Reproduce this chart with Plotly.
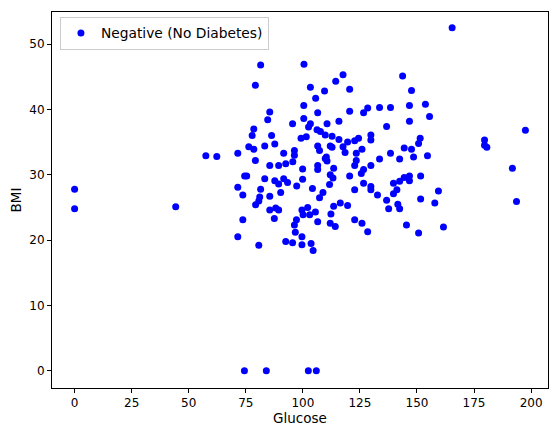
import plotly.graph_objects as go

glucose = [
    0, 0, 44.3, 57.5, 62.3, 74.4, 84, 102.4, 105.9, 165.4, 179.6, 179.6, 180.6, 191.8, 193.6, 197.5,
    143.7, 147.6, 133.6, 138.4, 146.7, 153.7, 155.5, 146.7, 136.7, 128.4, 126.6, 129.8, 129.8, 124.4,
    122.7, 125.9, 123.4, 123.4, 122.7, 129.8, 126.6, 125.6, 133.6, 138.4, 142.4, 144.4, 147.6, 148.5,
    150.7, 151.4, 154.6, 126.6, 122.7, 129.8, 129.8, 132.7, 139.7, 142.4, 144.4, 146.7, 146.7, 151.6,
    141.2, 139.7, 136.7, 137.6, 141.6, 142.4, 151.6, 159.4, 157.8, 122.7, 125.9, 128.4, 145.4, 150.7, 161.6,
    117.6, 114.4, 120.5, 120.5, 115.8, 112.8, 115.8, 112.8, 117.6, 119.6, 118.5,
    81.5, 100.5, 79.2, 103.3, 109.5, 105.6, 100.4, 106.5, 85.5, 84.6, 95.5, 100.4, 103.3, 102.5, 110.6,
    106.2, 107.7, 109.8, 78.5, 77.8, 86.3, 83.3, 87.7, 76.3, 78.5, 71.5, 99.2, 101.5, 91.6, 96.3, 96.3,
    106.5, 107.3, 112.0, 79.2, 110.3,
    95.6, 92.5, 89.4, 85.5, 99.9, 74.5, 75.4, 83.3, 87.7, 89.4, 91.6, 93.3, 97.3, 99.9, 71.5, 81.5, 90.3,
    73.7, 81.1, 85.5, 80.7, 79.3, 85.5, 88.1, 89.4, 99.6,
    106.5, 106.5, 109.8, 110.6, 113.5, 112.0, 113.2, 111.7, 104.2, 107.3, 108.8, 87.5, 102.1, 100.1,
    97.2, 96.3, 103.0, 105.5, 106.5, 112.3, 112.0, 114.2, 113.5, 73.7, 71.5, 80.7, 92.5, 95.5, 96.7,
    99.6, 99.6, 103.6, 104.5,
    120.5, 116.4, 119.6,
]

bmi = [
    27.8, 24.8, 25.1, 32.9, 32.8, 0, 0, 0, 0, 52.5, 35.3, 34.5, 34.2, 31.0, 25.9, 36.8,
    45.1, 42.9, 40.3, 40.3, 40.6, 40.8, 38.9, 38.2, 37.4, 40.2, 39.5, 36.1, 35.3, 35.6,
    35.2, 33.9, 33.3, 32.2, 31.4, 31.4, 30.8, 30.2, 32.4, 33.3, 32.4, 34.1, 33.9, 32.7,
    34.8, 35.6, 32.9, 28.7, 27.7, 28.2, 27.7, 26.9, 28.7, 29.0, 29.6, 29.8, 29.1, 29.8,
    27.7, 27.1, 26.1, 24.8, 25.5, 24.8, 26.3, 27.5, 25.7, 23.1, 22.6, 21.3, 22.3, 21.1, 22.0,
    45.3, 44.3, 43.1, 39.7, 38.2, 35.9, 35.4, 34.2, 34.3, 35.0, 33.4,
    46.8, 46.9, 43.7, 43.4, 42.8, 41.7, 40.6, 39.5, 39.6, 38.4, 37.8, 38.6, 37.8, 37.3, 37.8,
    36.9, 36.6, 36.1, 37.0, 36.0, 36.0, 34.4, 34.7, 34.3, 33.9, 33.3, 35.6, 35.8, 33.3, 33.7, 33.0,
    34.4, 33.7, 34.4, 32.2, 32.7,
    32.0, 31.7, 31.4, 31.4, 30.9, 29.8, 29.8, 29.4, 29.1, 28.6, 29.4, 28.8, 28.3, 29.3, 28.1, 27.8, 27.3,
    26.9, 26.6, 26.7, 26.0, 25.4, 24.6, 24.9, 24.6, 24.6,
    31.4, 30.8, 32.5, 32.1, 31.0, 30.0, 29.5, 28.5, 27.9, 26.5, 27.3, 23.3, 25.0, 23.9,
    23.1, 22.3, 23.9, 24.3, 22.8, 24.0, 22.6, 22.1, 25.2, 23.1, 20.5, 19.2, 19.8, 19.6, 21.2,
    20.5, 19.3, 19.5, 18.4,
    29.8, 25.7, 25.3,
]

series_name = "Negative (No Diabetes)"

fig = go.Figure()
fig.add_trace(go.Scatter(
    x=glucose, y=bmi, mode="markers", name=series_name,
    marker=dict(color="#0000ff", size=7, line=dict(width=0)),
    showlegend=True,
))

axis_common = dict(
    showline=True, linecolor="black", linewidth=1, mirror=True,
    ticks="outside", ticklen=4, tickcolor="black", tickwidth=1,
    showgrid=False, zeroline=False, automargin=False,
    tickfont=dict(family="DejaVu Sans", size=12, color="black"),
)

# page body has an 8px default margin; the figure is sized to fill the rest
fig.update_layout(
    width=550, height=426,
    margin=dict(l=44, r=10, t=4, b=46, autoexpand=False),
    paper_bgcolor="white", plot_bgcolor="white",
    font=dict(family="DejaVu Sans", size=12, color="black"),
    xaxis=dict(range=[-9.9, 207.4], tickvals=[0, 25, 50, 75, 100, 125, 150, 175, 200],
               title=dict(text="Glucose", font=dict(size=13.5), standoff=3), **axis_common),
    yaxis=dict(range=[-2.62, 54.9], tickvals=[0, 10, 20, 30, 40, 50],
               title=dict(text="BMI", font=dict(size=13.5), standoff=12), **axis_common),
    legend=dict(x=0.016, y=0.988, xanchor="left", yanchor="top",
                bgcolor="rgba(255,255,255,0.8)", bordercolor="#cccccc", borderwidth=1,
                font=dict(family="DejaVu Sans", size=13.8, color="black")),
)

fig.write_html("out.html")
